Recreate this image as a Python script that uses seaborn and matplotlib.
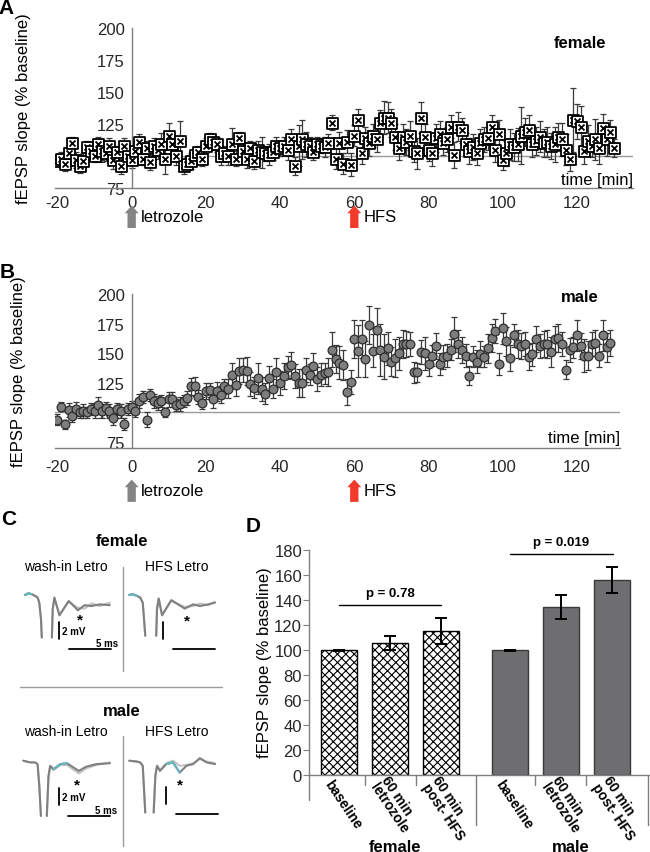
import numpy as np
import pandas as pd
import matplotlib
matplotlib.use('Agg')
import matplotlib.pyplot as plt
from matplotlib.path import Path
import seaborn as sns

nan = np.nan

# ---------------- data ----------------
# A: female, letrozole wash-in then HFS (one sweep per minute)
female_min = np.arange(-20, 131)
female_slope = [96, 98, 94, 102, 110, 97, 92, 96, 107, 104,
                100, 109, 104, 102, 108, 97, 103, 92, 108, 100,
                97, 104, 111, 98, 106, 95, 108, 105, 109, 98,
                116, 109, 100, 112, 92, 94, 96, 101, 103, 98,
                108, 113, 111, 109, 100, 102, 100, 109, 98, 114,
                104, 98, 106, 96, 105, 103, 102, 101, 103, 108,
                106, 108, 105, 113, 92, 108, 113, 109, 108, 103,
                109, 108, 107, 110, 126, 98, 110, 94, 111, 93,
                116, 128, 102, 114, 110, 116, 113, 126, 130, 130,
                126, 115, 106, 115, 111, 116, 104, 102, 130, 115,
                105, 102, 114, 117, 110, 113, 123, 101, 123, 120,
                109, 104, 107, 102, 110, 113, 114, 123, 105, 117,
                97, 102, 109, 107, 109, 116, 119, 120, 109, 112,
                115, 110, 111, 108, 109, 115, 113, 105, 98, 128,
                127, 123, 104, 112, 108, 113, 106, 122, 113, 119,
                106]
female_sem = [4, 5, 6, 5, 5, 6, 5, 6, 5, 6,
              5, 6, 7, 6, 6, 7, 5, 6, 6, 7,
              6, 6, 6, 5, 6, 6, 6, 7, 9, 12,
              10, 9, 7, 15, 6, 5, 6, 5, 5, 6,
              6, 5, 6, 6, 7, 6, 7, 13, 6, 5,
              6, 7, 6, 6, 7, 12, 6, 8, 6, 7,
              6, 7, 8, 8, 7, 16, 15, 10, 7, 6,
              6, 6, 8, 7, 6, 8, 9, 8, 9, 9,
              8, 9, 8, 9, 10, 9, 10, 10, 13, 12,
              11, 10, 9, 10, 10, 11, 9, 12, 12, 10,
              9, 10, 11, 10, 9, 10, 9, 10, 11, 10,
              9, 10, 10, 9, 11, 10, 9, 9, 10, 11,
              8, 10, 12, 11, 13, 22, 11, 12, 10, 11,
              12, 11, 12, 10, 14, 11, 13, 12, 10, 25,
              14, 16, 10, 12, 9, 16, 12, 11, 13, 9,
              7]

# B: male
male_min = np.arange(-20, 130)
male_slope = [94, 105, 90, 102, 97, 103, 100, 101, 100, 103,
              101, 106, 101, 104, 101, 95, 103, 101, 90, 103,
              105, 101, 110, 113, 94, 115, 110, 108, 110, 100,
              111, 111, 106, 107, 110, 112, 122, 122, 113, 108,
              118, 119, 111, 118, 115, 122, 120, 132, 123, 135,
              136, 135, 124, 121, 129, 120, 116, 129, 120, 134,
              125, 131, 138, 140, 131, 125, 125, 136, 132, 139,
              128, 132, 133, 134, 153, 145, 142, 140, 117, 126,
              162, 152, 162, 145, 174, 152, 170, 153, 147, 154,
              143, 146, 150, 158, 158, 158, 134, 134, 151, 150,
              141, 148, 156, 141, 147, 148, 153, 166, 158, 153,
              148, 131, 147, 143, 149, 147, 154, 163, 169, 141,
              171, 160, 146, 165, 158, 156, 158, 147, 149, 162,
              156, 158, 158, 151, 162, 163, 158, 136, 153, 155,
              165, 156, 148, 148, 158, 159, 148, 165, 155, 159]
male_sem = [5, 4, 4, 6, 5, 6, 5, 6, 5, 5,
            6, 7, 6, 5, 6, 6, 5, 6, 5, 5,
            5, 5, 6, 5, 6, 5, 6, 6, 5, 4,
            6, 6, 5, 6, 5, 6, 7, 8, 6, 5,
            7, 6, 7, 8, 7, 6, 8, 10, 9, 11,
            10, 12, 10, 9, 13, 10, 9, 10, 8, 12,
            10, 11, 10, 11, 10, 12, 12, 10, 9, 11,
            10, 10, 9, 12, 15, 12, 14, 13, 11, 10,
            16, 22, 16, 15, 16, 14, 18, 22, 19, 14,
            12, 16, 14, 12, 11, 10, 9, 8, 10, 14,
            10, 9, 11, 9, 10, 10, 9, 15, 12, 11,
            10, 8, 9, 10, 11, 9, 12, 12, 10, 9,
            13, 12, 11, 10, 12, 11, 10, 11, 10, 11,
            10, 11, 12, 13, 11, 12, 10, 8, 10, 9,
            13, 11, 14, 12, 10, 11, 10, 13, 12, 11]

# C: example traces (ms, mV), NaN = blanked stimulus artefact
fw_t = [0, 0.4, 0.8, 1.2, 1.5, 1.7, 1.9, 2.0, nan, 3.2, 3.3, 3.5, 4.1, 5.2, 6.3, 7.1, 7.9, 8.9, 10.1]
fw_pre = [0, 0.2, 0.1, -0.1, -0.3, -0.9, -2.8, -5.0, nan, -5.0, -1.6, -0.3, -2.4, -0.7, -1.8, -1.2, -1.3, -1.1, -1.2]
fw_post = [0, 0.2, 0.1, -0.1, -0.3, -0.9, -2.8, -5.0, nan, -5.0, -1.7, -0.4, -2.3, -0.8, -1.5, -1.6, -1.0, -1.3, -0.9]

fh_t = [0, 0.4, 0.9, 1.3, 1.6, 1.75, 1.9, nan, 3.2, 3.3, 3.5, 3.9, 5.0, 6.6, 7.6, 8.4, 9.4, 10.2]
fh_pre = [0, 0.1, -0.1, -0.3, -0.9, -2.8, -4.8, nan, -4.8, -1.6, -0.4, -2.4, -0.6, -1.6, -1.1, -1.3, -1.1, -0.9]
fh_post = [0, 0.1, -0.1, -0.3, -0.9, -2.8, -4.8, nan, -4.8, -1.7, -0.5, -2.3, -0.7, -1.4, -1.3, -1.0, -1.2, -0.8]

mw_t = [0, 0.8, 1.4, 1.7, 1.9, 2.1, nan, 2.8, 3.0, 3.2, 3.6, 4.4, 5.2, 6.6, 7.5, 8.7, 10.3]
mw_pre = [0, -0.2, -0.2, -0.4, -2.9, -6.5, nan, -6.5, -1.8, -0.6, -1.0, -0.4, -0.3, -1.2, -0.7, -0.4, -0.3]
mw_post = [0, -0.2, -0.2, -0.4, -2.9, -6.5, nan, -6.5, -1.9, -0.7, -1.1, -0.5, -0.5, -1.5, -0.9, -0.5, -0.2]

mh_t = [0, 0.9, 1.3, 1.6, 1.75, 1.9, nan, 2.9, 3.1, 3.3, 3.65, 4.4, 5.2, 6.0, 6.8, 7.6, 8.4, 9.2, 10.2]
mh_pre = [0, -0.1, -0.2, -0.6, -3.3, -6.1, nan, -6.1, -1.8, -0.6, -1.2, -0.4, -0.2, -1.4, -0.6, -0.4, 0.3, -0.2, -0.4]
mh_post = [0, -0.1, -0.2, -0.6, -3.3, -6.1, nan, -6.1, -1.8, -0.6, -1.1, -0.3, 0.0, -0.6, -0.5, -0.3, 0.2, -0.1, -0.3]

# D: summary bars
conditions = ['baseline', '60 min\nletrozole', '60 min\npost- HFS']
female_mean = [100, 105.5, 115.2]
female_err = [0.4, 5.5, 10.4]
male_mean = [100, 134.5, 156.2]
male_err = [0.4, 9.3, 10.2]

# ---------------- style ----------------
sns.set_style('white')
plt.rcParams['font.family'] = ['Liberation Sans', 'DejaVu Sans']
plt.rcParams['axes.unicode_minus'] = False
plt.rcParams['hatch.linewidth'] = 0.8
plt.rcParams['text.color'] = 'black'

W, H = 650, 853
fig = plt.figure(figsize=(6.5, 8.53), dpi=100)
fig.patch.set_facecolor('white')


def px_axes(left, top, right, bottom):
    return fig.add_axes([left / W, 1 - bottom / H, (right - left) / W, (bottom - top) / H])


# square with an X inside
box_x = Path([(-1, -1), (1, -1), (1, 1), (-1, 1), (-1, -1),
              (-0.55, -0.55), (0.55, 0.55), (-0.55, 0.55), (0.55, -0.55)],
             [Path.MOVETO, Path.LINETO, Path.LINETO, Path.LINETO, Path.CLOSEPOLY,
              Path.MOVETO, Path.LINETO, Path.MOVETO, Path.LINETO])


def stim_arrow(ax, x, y_tip, y_tail, color, label):
    tr = ax.get_xaxis_transform()
    ax.annotate('', xy=(x, y_tip), xytext=(x, y_tail), xycoords=tr, textcoords=tr,
                arrowprops=dict(arrowstyle='simple,head_length=0.55,head_width=1.0,tail_width=0.6',
                                fc=color, ec='none', mutation_scale=10, shrinkA=0, shrinkB=0),
                annotation_clip=False)
    ax.text(x + 2.6, (y_tip + y_tail) / 2, label, transform=tr, ha='left', va='center', fontsize=12)


def time_course(ax, minutes, slope, sem, ylim, xmax, kind, tag, tag_y, time_y, xpad):
    ax.axhline(100, color='#9a9a9a', lw=1, zorder=0)
    ax.errorbar(minutes, slope, yerr=sem, fmt='none', ecolor='#3a3a3a',
                elinewidth=0.9, capsize=2.5, capthick=0.9, zorder=2)
    if kind == 'box':
        sns.scatterplot(x=minutes, y=slope, marker=box_x, s=62, color='white',
                        edgecolor='black', linewidth=1.3, ax=ax, zorder=3)
    else:
        sns.scatterplot(x=minutes, y=slope, marker='o', s=40, color='#7d7d7d',
                        edgecolor='#2e2e2e', linewidth=0.9, ax=ax, zorder=3)
    sns.despine(ax=ax)
    ax.spines['left'].set_position(('data', 0))
    for s in ('left', 'bottom'):
        ax.spines[s].set_color('#7f7f7f')
        ax.spines[s].set_linewidth(1.0)
    ax.set_xlim(-20.8, xmax)
    ax.set_ylim(*ylim)
    ax.set_xticks(range(-20, 121, 20))
    ax.set_yticks(range(75, 201, 25))
    ax.tick_params(axis='x', direction='in', length=4, color='#7f7f7f', labelsize=12, pad=xpad)
    ax.tick_params(axis='y', direction='out', length=4, color='#7f7f7f', labelsize=12, pad=1)
    ax.set_xlabel('')
    ax.set_ylabel('')
    ax.patch.set_alpha(0)
    tr = ax.get_xaxis_transform()
    ax.text(xmax, time_y, 'time [min]', transform=tr, ha='right', va='center', fontsize=12)
    ax.text(120.8, tag_y, tag, transform=tr, ha='center', va='center', fontsize=12, fontweight='bold')


# ---------------- A ----------------
axA = px_axes(54.5, 29, 632.6, 189)
time_course(axA, female_min, female_slope, female_sem, (75, 200), 135, 'box',
            'female', 0.9125, 0.056, 5)
stim_arrow(axA, 0, -0.11, -0.25, '#848484', 'letrozole')
stim_arrow(axA, 60, -0.11, -0.25, '#f23a2b', 'HFS')

# ---------------- B ----------------
axB = px_axes(54.5, 295, 619.6, 449)
time_course(axB, male_min, male_slope, male_sem, (70, 200), 131.5, 'circle',
            'male', 0.987, 0.065, 8)
stim_arrow(axB, 0, -0.205, -0.35, '#848484', 'letrozole')
stim_arrow(axB, 60, -0.205, -0.35, '#f23a2b', 'HFS')

fig.text(24 / W, 1 - 109 / H, 'fEPSP slope (% baseline)', rotation=90, ha='center', va='center', fontsize=12)
fig.text(19 / W, 1 - 372 / H, 'fEPSP slope (% baseline)', rotation=90, ha='center', va='center', fontsize=12)
fig.text(6 / W, 1 - 8 / H, 'A', ha='center', va='center', fontsize=15, fontweight='bold')
fig.text(7 / W, 1 - 273 / H, 'B', ha='center', va='center', fontsize=15, fontweight='bold')

# ---------------- C ----------------
axC = fig.add_axes([0, 0, 235 / W, 348 / H])
axC.set_xlim(0, 235)
axC.set_ylim(853, 505)
axC.axis('off')
MS_PX, MV_PX = 8.4, 8.5


def draw_traces(x0, y0, t, pre, post, cyan):
    t = np.asarray(t, float)
    axC.plot(x0 + t * MS_PX, y0 - np.asarray(post, float) * MV_PX, color='#c4c4c4', lw=1.5)
    axC.plot(x0 + t * MS_PX, y0 - np.asarray(pre, float) * MV_PX, color='#808080', lw=1.5)
    a, b = cyan
    axC.plot(x0 + t[a:b] * MS_PX, y0 - np.asarray(pre, float)[a:b] * MV_PX, color='#62b7c1', lw=1.5)


def scale_bars(xv, yv, xh0, yh, labels):
    axC.plot([xv, xv], [yv, yv + 17], color='black', lw=1.3)
    axC.plot([xh0, xh0 + 5 * MS_PX], [yh, yh], color='black', lw=1.3)
    if labels:
        axC.text(xv + 3, yv + 9, '2 mV', ha='left', va='center', fontsize=7, fontweight='bold')
        axC.text(xh0 + 49, yh - 6, '5 ms', ha='right', va='center', fontsize=7, fontweight='bold')


draw_traces(25, 596, fw_t, fw_pre, fw_post, (0, 3))
draw_traces(129.3, 596, fh_t, fh_pre, fh_post, (0, 3))
draw_traces(23.3, 761.7, mw_t, mw_pre, mw_post, (10, 13))
draw_traces(129.3, 761.7, mh_t, mh_pre, mh_post, (11, 14))
scale_bars(59, 623, 69, 650, True)
scale_bars(163, 623, 173, 650, False)
scale_bars(59, 789, 68, 817, True)
scale_bars(166, 788, 176, 815, False)
for x, y in [(80, 620), (187, 621), (77, 785), (180, 785)]:
    axC.text(x, y, '*', ha='center', va='center', fontsize=11, fontweight='bold')

axC.text(9, 520, 'C', ha='center', va='center', fontsize=15, fontweight='bold')
for y_head, y_sub, y_top, y_bot, sex in [(542, 567, 568, 672, 'female'), (712, 732, 737, 847, 'male')]:
    axC.text(122, y_head, sex, ha='center', va='center', fontsize=12, fontweight='bold')
    axC.text(66, y_sub, 'wash-in Letro', ha='center', va='center', fontsize=10)
    axC.text(177, y_sub, 'HFS Letro', ha='center', va='center', fontsize=10)
    axC.plot([123, 123], [y_top, y_bot], color='#9a9a9a', lw=1)
axC.plot([20, 222], [688, 688], color='#9a9a9a', lw=1)

# ---------------- D ----------------
axD = px_axes(309, 551, 650, 776)
GROUP_GAP = 3.35
rows = []
for g, (sex, means, errs) in enumerate([('female', female_mean, female_err), ('male', male_mean, male_err)]):
    for i, cond in enumerate(conditions):
        rows.append({'pos': g * GROUP_GAP + i, 'slope': means[i], 'err': errs[i], 'sex': sex, 'cond': cond})
df = pd.DataFrame(rows)

sns.barplot(data=df, x='pos', y='slope', hue='sex', palette={'female': 'white', 'male': '#6d6e71'},
            native_scale=True, width=0.7, dodge=False, errorbar=None, legend=False,
            edgecolor='black', linewidth=1.0, ax=axD)
for p in axD.patches:
    if p.get_facecolor()[0] > 0.9:
        p.set_hatch('xxxx')
    else:
        p.set_edgecolor('#3a3a3a')
axD.errorbar(df['pos'], df['slope'], yerr=df['err'], fmt='none', ecolor='black',
             elinewidth=1.4, capsize=4, capthick=1.4, zorder=4)

sns.despine(ax=axD)
for s in ('left', 'bottom'):
    axD.spines[s].set_color('#7f7f7f')
    axD.spines[s].set_linewidth(1.0)
axD.set_xlim(-0.59, 6.1)
axD.set_ylim(0, 180)
axD.set_yticks(range(0, 181, 20))
axD.set_xticks([])
axD.tick_params(axis='y', direction='out', length=4, color='#7f7f7f', labelsize=12, pad=1, left=True)
axD.set_xlabel('')
axD.set_ylabel('')

trD = axD.get_xaxis_transform()
for pos, cond in zip(df['pos'], df['cond']):
    axD.text(pos - 0.22, -0.025, cond, transform=trD, rotation=-56, rotation_mode='anchor',
             ha='left', va='center', fontsize=10, fontweight='bold', linespacing=0.9)
for x, y_end in [(-0.59, -0.11), (0.5, -0.045), (1.5, -0.045), (2.68, -0.22),
                 (3.85, -0.045), (4.85, -0.045), (6.06, -0.22)]:
    axD.plot([x, x], [0, y_end], transform=trD, color='#7f7f7f', lw=1, clip_on=False)
axD.text(1.1, -0.316, 'female', transform=trD, ha='center', va='center', fontsize=12, fontweight='bold')
axD.text(4.55, -0.316, 'male', transform=trD, ha='center', va='center', fontsize=12, fontweight='bold')

axD.plot([0, 2.0], [136, 136], color='black', lw=1, clip_on=False)
axD.text(1.0, 146, 'p = 0.78', ha='center', va='center', fontsize=9.5, fontweight='bold')
axD.plot([GROUP_GAP, GROUP_GAP + 2.02], [177, 177], color='black', lw=1, clip_on=False)
axD.text(GROUP_GAP + 1.0, 186.5, 'p = 0.019', ha='center', va='center', fontsize=9.5, fontweight='bold')

fig.text(264 / W, 1 - 663 / H, 'fEPSP slope (% baseline)', rotation=90, ha='center', va='center', fontsize=12)
fig.text(253 / W, 1 - 527 / H, 'D', ha='center', va='center', fontsize=15, fontweight='bold')

fig.savefig('out.png', dpi=100)
